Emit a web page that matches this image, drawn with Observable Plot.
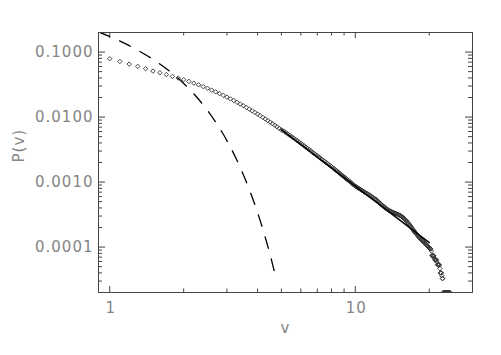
<!DOCTYPE html>
<html><head><meta charset="utf-8">
<script src="https://cdn.jsdelivr.net/npm/d3@7"></script>
<script src="https://cdn.jsdelivr.net/npm/@observablehq/plot@0.6"></script>
<style>body{margin:0;background:#fff}</style>
</head><body><div id="chart"></div>
<script>
// Observed distribution (diamonds): speed v and log10 of P(v)
const vObs = [
  1.0,1.1,1.2,1.3,1.4,1.5,1.6,1.7,1.8,1.9,
  2.0,2.1,2.2,2.3,2.4,2.5,2.6,2.7,2.8,2.9,
  3.0,3.1,3.2,3.3,3.4,3.5,3.6,3.7,3.8,3.9,
  4.0,4.1,4.2,4.3,4.4,4.5,4.6,4.7,4.8,4.9,
  5.0,5.1,5.2,5.3,5.4,5.5,5.6,5.7,5.8,5.9,
  6.0,6.1,6.2,6.3,6.4,6.5,6.6,6.7,6.8,6.9,
  7.0,7.1,7.2,7.3,7.4,7.5,7.6,7.7,7.8,7.9,
  8.0,8.1,8.2,8.3,8.4,8.5,8.6,8.7,8.8,8.9,
  9.0,9.1,9.2,9.3,9.4,9.5,9.6,9.7,9.8,9.9,
  10.0,10.1,10.2,10.3,10.4,10.5,10.6,10.7,10.8,10.9,
  11.0,11.1,11.2,11.3,11.4,11.5,11.6,11.7,11.8,11.9,
  12.0,12.1,12.2,12.3,12.4,12.5,12.6,12.7,12.8,12.9,
  13.0,13.1,13.2,13.3,13.4,13.5,13.6,13.7,13.8,13.9,
  14.0,14.1,14.2,14.3,14.4,14.5,14.6,14.7,14.8,14.9,
  15.0,15.1,15.2,15.3,15.4,15.5,15.6,15.7,15.8,15.9,
  16.0,16.1,16.2,16.3,16.4,16.5,16.6,16.7,16.8,16.9,
  17.0,17.1,17.2,17.3,17.4,17.5,17.6,17.7,17.8,17.9,
  18.0,18.1,18.2,18.3,18.4,18.5,18.6,18.7,18.8,18.9,
  19.0,19.1,19.2,19.3,19.4,19.5,19.6,19.7,19.8,19.9,
  20.0,20.1,20.2,20.3,20.4,20.5,20.6,20.7,20.8,20.9,
  21.0,21.1,21.2,21.3,21.4,21.5,21.6,21.7,21.8,21.9,
  22.0,22.1,22.2,22.3,22.4,22.5,22.6,22.7,22.8,22.9,
  23.0,23.1,23.2,23.3,23.4,23.5,23.6,23.7,23.8,23.9,
  24.0,24.1,24.2,24.3
];
const logPObs = [
  -1.103,-1.145,-1.185,-1.220,-1.256,-1.293,-1.319,-1.346,-1.374,-1.400,
  -1.425,-1.451,-1.478,-1.504,-1.531,-1.558,-1.585,-1.612,-1.639,-1.666,
  -1.693,-1.720,-1.746,-1.773,-1.799,-1.826,-1.852,-1.878,-1.903,-1.929,
  -1.954,-1.979,-2.004,-2.029,-2.054,-2.078,-2.103,-2.127,-2.150,-2.174,
  -2.198,-2.214,-2.235,-2.257,-2.279,-2.300,-2.321,-2.342,-2.363,-2.384,
  -2.403,-2.423,-2.444,-2.464,-2.484,-2.503,-2.522,-2.541,-2.560,-2.578,
  -2.596,-2.614,-2.631,-2.649,-2.666,-2.682,-2.699,-2.715,-2.732,-2.748,
  -2.763,-2.780,-2.796,-2.813,-2.829,-2.844,-2.860,-2.876,-2.891,-2.906,
  -2.921,-2.936,-2.951,-2.965,-2.980,-2.994,-3.008,-3.022,-3.036,-3.050,
  -3.063,-3.074,-3.084,-3.094,-3.104,-3.114,-3.124,-3.134,-3.144,-3.153,
  -3.163,-3.172,-3.181,-3.190,-3.199,-3.208,-3.218,-3.228,-3.238,-3.247,
  -3.257,-3.266,-3.272,-3.287,-3.301,-3.313,-3.325,-3.337,-3.349,-3.360,
  -3.372,-3.382,-3.391,-3.401,-3.410,-3.419,-3.427,-3.434,-3.441,-3.448,
  -3.455,-3.460,-3.465,-3.470,-3.474,-3.479,-3.484,-3.488,-3.493,-3.497,
  -3.502,-3.508,-3.514,-3.520,-3.527,-3.533,-3.543,-3.553,-3.563,-3.573,
  -3.582,-3.594,-3.606,-3.618,-3.629,-3.641,-3.655,-3.668,-3.682,-3.695,
  -3.708,-3.722,-3.735,-3.748,-3.762,-3.775,-3.786,-3.797,-3.808,-3.819,
  -3.830,-3.840,-3.850,-3.860,-3.870,-3.879,-3.888,-3.897,-3.906,-3.914,
  -3.923,-3.931,-3.940,-3.949,-3.957,-3.965,-3.975,-3.984,-3.994,-4.003,
  -4.012,-4.020,-4.025,-4.030,-4.060,-4.130,-4.136,-4.130,-4.140,-4.136,
  -4.180,-4.198,-4.195,-4.200,-4.198,-4.230,-4.270,-4.275,-4.272,-4.278,
  -4.275,-4.330,-4.398,-4.395,-4.400,-4.440,-4.483,-4.485,-4.699,-4.699,
  -4.699,-4.699,-4.699,-4.699,-4.699,-4.699,-4.699,-4.699,-4.699,-4.699,
  -4.699,-4.699,-4.699,-4.699
];
// Dashed (Gaussian-like) model curve
const vModel = [0.9,1.0,1.2,1.4,1.6,1.8,2.0,2.25,2.5,2.75,3.0,3.25,3.5,3.75,4.0,4.25,4.5,4.76];
const pModel = [0.205,0.1734,0.1254,0.0908,0.0655,0.0467,0.03286,0.0207,0.01269,0.00754,
                0.00434,0.002415,0.001299,0.000674,0.0003376,0.000163,0.0000758,0.0000325];
// Solid power-law fit
const vFit = [5, 20];
const pFit = [0.0064, 0.000117];

// Axes
const xDomain = [0.9, 30];
const yDomain = [2e-5, 0.2];
const xMajor = [1, 10];
const xMajorLabels = ["1", "10"];
const xMinor = [2,3,4,5,6,7,8,9,20,30];
const yMajor = [0.0001, 0.001, 0.01, 0.1];
const yMajorLabels = ["0.0001", "0.0010", "0.0100", "0.1000"];
const yMinor = [2e-5,3e-5,4e-5,5e-5,6e-5,7e-5,8e-5,9e-5,
                2e-4,3e-4,4e-4,5e-4,6e-4,7e-4,8e-4,9e-4,
                2e-3,3e-3,4e-3,5e-3,6e-3,7e-3,8e-3,9e-3,
                0.02,0.03,0.04,0.05,0.06,0.07,0.08,0.09,0.2];

const obs = vObs.map((v, i) => ({v, P: Math.pow(10, logPObs[i])}));
const model = vModel.map((v, i) => ({v, P: pModel[i]}));
const fit = vFit.map((v, i) => ({v, P: pFit[i]}));

const W = 501, H = 355, mL = 98, mR = 29, mT = 32, mB = 63;
const iw = W - mL - mR, ih = H - mT - mB;
const axisCol = "#444", textCol = "#858585";
const font = "DejaVu Sans";

const chart = Plot.plot({
  width: W, height: H,
  marginLeft: mL, marginRight: mR, marginTop: mT, marginBottom: mB,
  style: {fontFamily: font, fontSize: "15px", letterSpacing: "1px", background: "#fff"},
  x: {type: "log", domain: xDomain, axis: null},
  y: {type: "log", domain: yDomain, axis: null},
  marks: [
    // ticks (inward, all four sides)
    Plot.tickX(xMajor, {x: d => d, insetTop: ih - 6, stroke: axisCol}),
    Plot.tickX(xMajor, {x: d => d, insetBottom: ih - 6, stroke: axisCol}),
    Plot.tickX(xMinor, {x: d => d, insetTop: ih - 3.5, stroke: axisCol}),
    Plot.tickX(xMinor, {x: d => d, insetBottom: ih - 3.5, stroke: axisCol}),
    Plot.tickY(yMajor, {y: d => d, insetRight: iw - 7, stroke: axisCol}),
    Plot.tickY(yMajor, {y: d => d, insetLeft: iw - 7, stroke: axisCol}),
    Plot.tickY(yMinor, {y: d => d, insetRight: iw - 4, stroke: axisCol}),
    Plot.tickY(yMinor, {y: d => d, insetLeft: iw - 4, stroke: axisCol}),
    // tick labels
    Plot.text(yMajor, {y: d => d, frameAnchor: "left", text: (d, i) => yMajorLabels[i],
      textAnchor: "end", dx: -5, fill: textCol, fontSize: 15}),
    Plot.text(xMajor, {x: d => d, frameAnchor: "bottom", text: (d, i) => xMajorLabels[i],
      lineAnchor: "top", dy: 10, dx: 1, fill: textCol, fontSize: 15}),
    // axis titles
    Plot.text(["P(v)"], {frameAnchor: "left", text: d => d, rotate: -90, dx: -79,
      fill: textCol, fontSize: 15}),
    Plot.text(["v"], {frameAnchor: "bottom", text: d => d, dy: 40,
      fill: textCol, fontSize: 15}),
    // data
    Plot.dot(obs, {x: "v", y: "P", symbol: "diamond2", r: 2, stroke: "#333",
      strokeWidth: 0.9, fill: "none", clip: true}),
    Plot.line(model, {x: "v", y: "P", stroke: "#000", strokeWidth: 1.3,
      strokeDasharray: "12,11", curve: "monotone-x", clip: true}),
    Plot.line(fit, {x: "v", y: "P", stroke: "#000", strokeWidth: 1.5}),
    Plot.frame({stroke: axisCol})
  ]
});
document.getElementById("chart").appendChild(chart);
</script>
</body></html>
